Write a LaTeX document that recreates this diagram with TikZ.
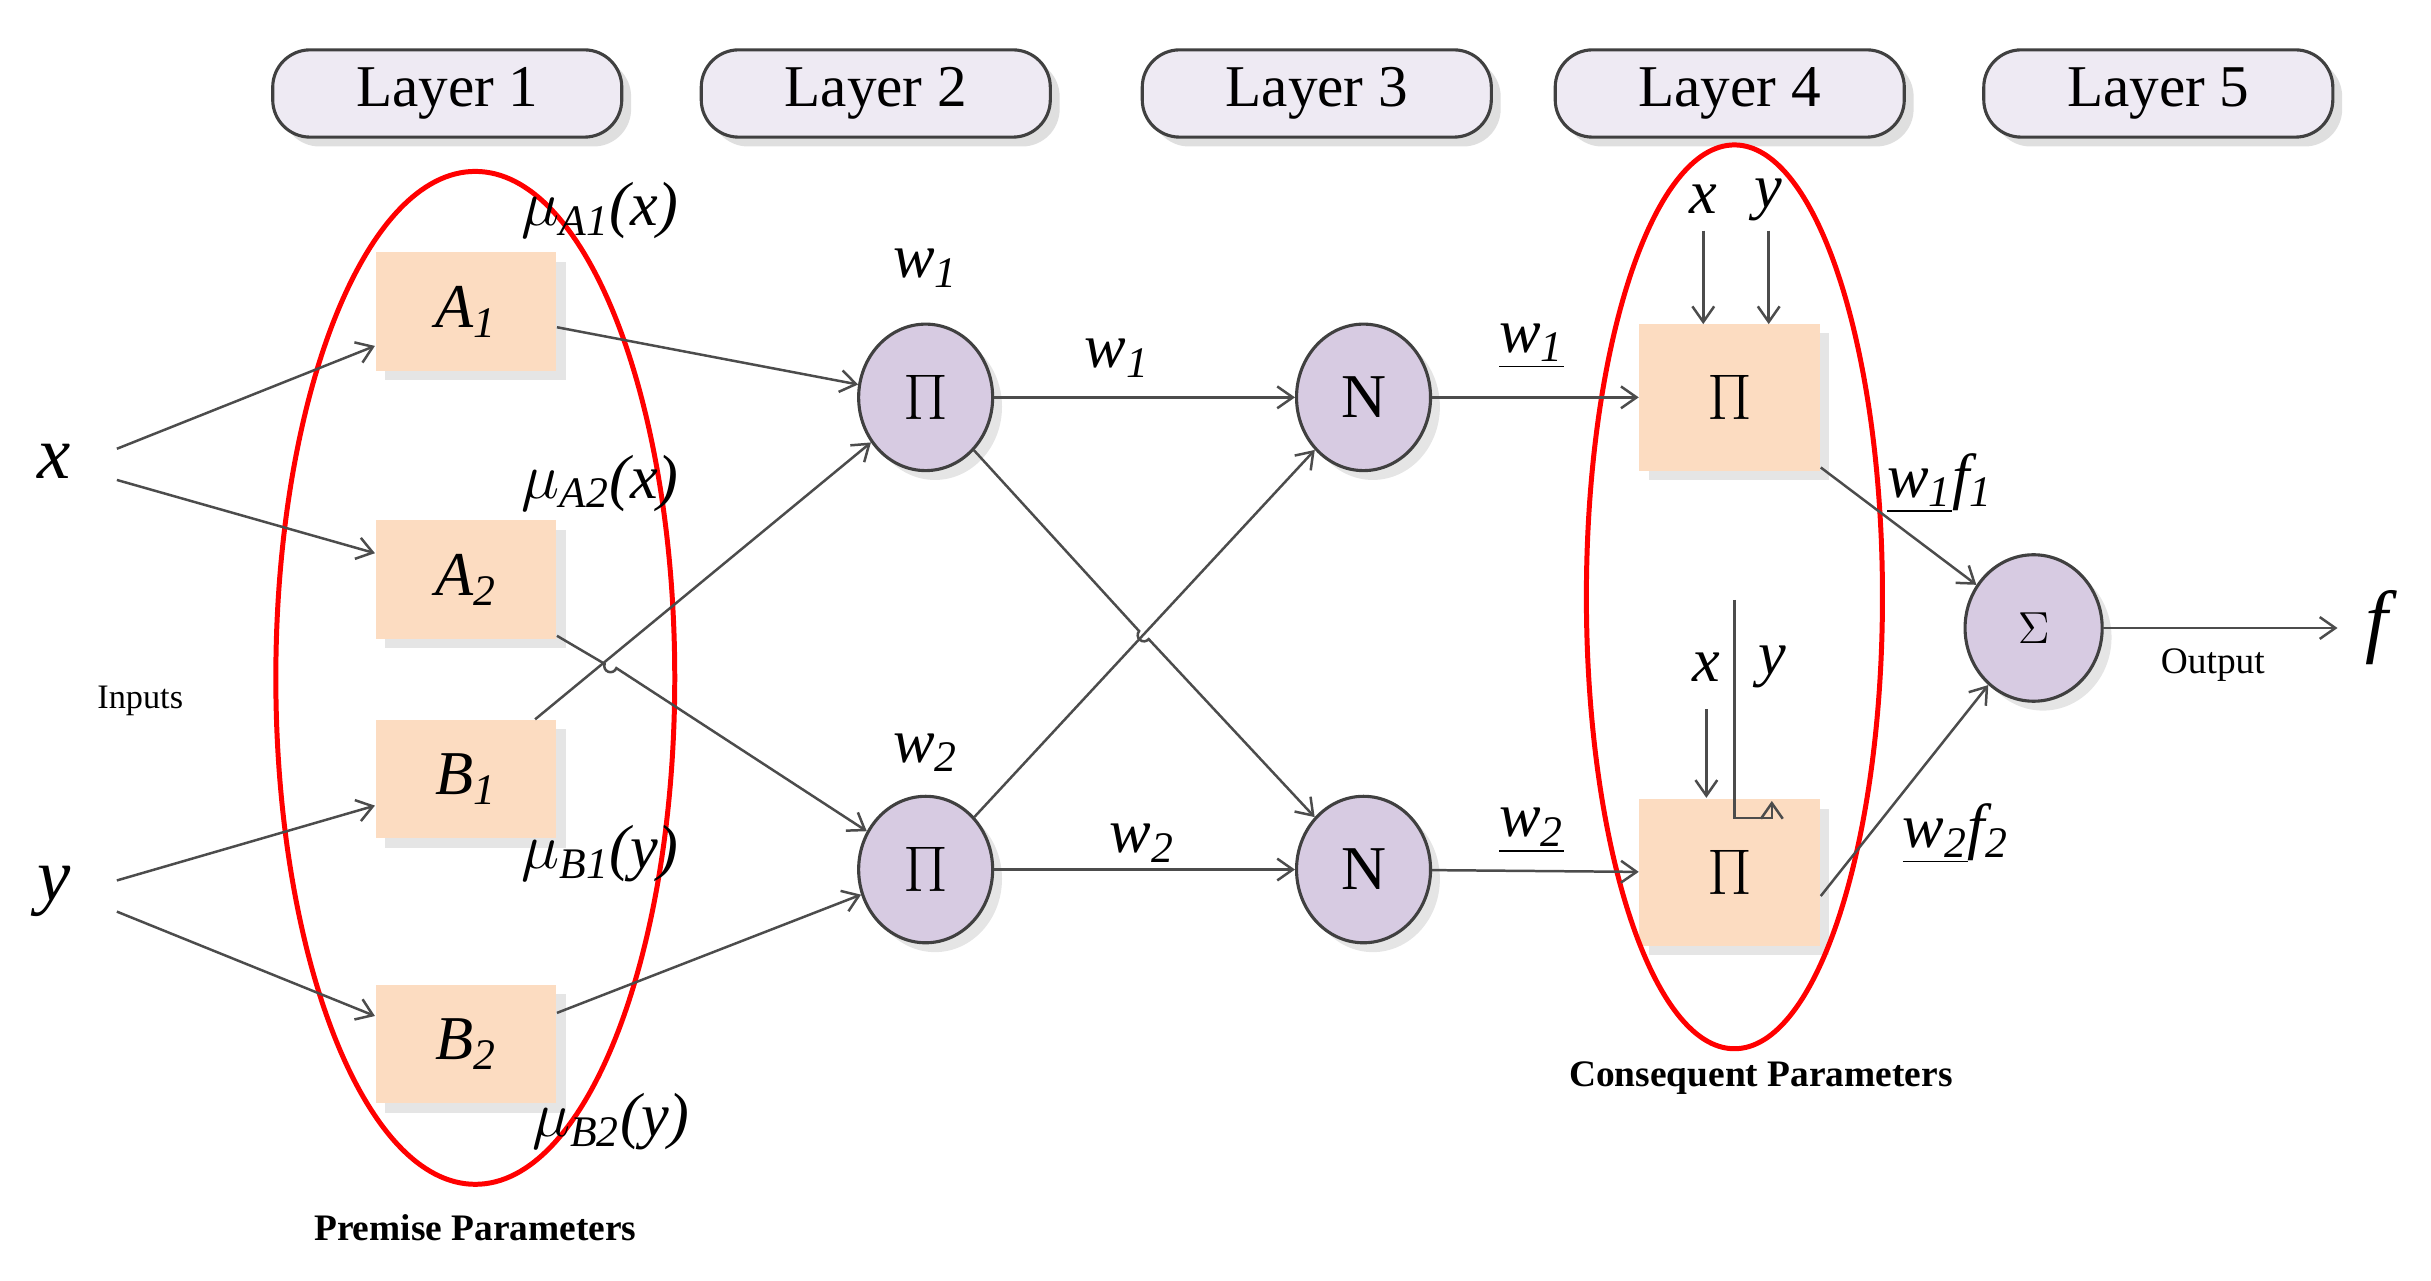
\documentclass[tikz,border=0pt]{standalone}
\usepackage{fontspec}
\setmainfont{Liberation Serif}
\usetikzlibrary{shadows,arrows.meta}
\definecolor{lay}{HTML}{EEEAF3}
\definecolor{peach}{HTML}{FCDCC1}
\definecolor{lav}{HTML}{D7CBE2}
\begin{document}
\begin{tikzpicture}[x=0.5pt,y=-0.5pt,
  layer/.style={draw=black!75,line width=1pt,fill=lay,rounded corners=12pt,minimum width=112pt,minimum height=28pt,font=\fontsize{19}{20}\selectfont,drop shadow={shadow xshift=3pt,shadow yshift=-3pt,fill=black!25}},
  sq/.style={fill=peach,minimum width=58pt,minimum height=38pt,font=\fontsize{20}{22}\selectfont\itshape,drop shadow={shadow xshift=3pt,shadow yshift=-3pt,fill=black!20}},
  sq4/.style={fill=peach,minimum width=58pt,minimum height=47pt,font=\fontsize{22}{24}\selectfont,drop shadow={shadow xshift=3pt,shadow yshift=-3pt,fill=black!20}},
  cir/.style={ellipse,draw=black!75,line width=1pt,fill=lav,minimum width=43pt,minimum height=47pt,inner sep=0pt,font=\fontsize{20}{22}\selectfont,drop shadow={shadow xshift=3pt,shadow yshift=-3pt,fill=black!20}},
  ar/.style={draw=black!70,line width=0.8pt,-{Straight Barb[length=5pt,width=7pt]}},
  lab/.style={font=\fontsize{20}{22}\selectfont\itshape,inner sep=0pt},
  red/.style={draw=red,line width=1.6pt}]
\useasboundingbox (0,0) rectangle (1560,822);
\usetikzlibrary{shapes.geometric}
% layers
\foreach \n/\x in {1/287,2/562,3/845,4/1110,5/1385}
  \node[layer] (L\n) at (\x,60) {Layer \n};
% nodes
\node[sq] (A1) at (299,200) {A\textsubscript{1}};
\node[sq] (A2) at (299,372) {A\textsubscript{2}};
\node[sq] (B1) at (299,500) {B\textsubscript{1}};
\node[sq] (B2) at (299,670) {B\textsubscript{2}};
\node[cir] (P1) at (594,255) {$\Pi$};
\node[cir] (P2) at (594,558) {$\Pi$};
\node[cir] (N1) at (875,255) {N};
\node[cir] (N2) at (875,558) {N};
\node[sq4] (Q1) at (1110,255) {$\Pi$};
\node[sq4] (Q2) at (1110,560) {$\Pi$};
\node[cir,minimum width=44pt,minimum height=47pt,font=\fontsize{14}{16}\selectfont] (S) at (1305,403) {$\Sigma$};
% ellipses
\draw[red] (305,435) ellipse (128 and 325);
\draw[red] (1113,383) ellipse (95 and 290);
% inputs
\node[lab,font=\fontsize{24}{26}\selectfont\itshape] (x) at (35,296) {x};
\node[lab,font=\fontsize{24}{26}\selectfont\itshape] (y) at (35,572) {y};
\coordinate (xa) at (75,288); \coordinate (xb) at (75,308);
\coordinate (ya) at (75,565); \coordinate (yb) at (75,585);
\draw[ar] (xa) -- (A1.west |- 0,222);
\draw[ar] (xb) -- (A2.west |- 0,355);
\draw[ar] (ya) -- (B1.west |- 0,517);
\draw[ar] (yb) -- (B2.west |- 0,652);
\node[font=\fontsize{11}{12}\selectfont] (inp) at (90,450) {Inputs};
% layer1->2
\draw[ar] (A1.east |- 0,210) -- (P1);
\draw[ar] (B1.north east) ++(-14,0) coordinate (b1s) (b1s) -- (P1);
\draw[ar] (A2.east |- 0,408) -- (388,426) arc[start angle=200,end angle=20,radius=4] -- (P2);
\draw[ar] (B2.east |- 0,650) -- (P2);
% layer 2->3
\draw[ar] (P1) -- (N1);
\draw[ar] (P2) -- (N2);
\draw[ar] (P1) -- (731,405) arc[start angle=220,end angle=40,radius=4] -- (N2);
\draw[ar] (P2) -- (N1);
% 3->4
\draw[ar] (N1) -- (Q1);
\draw[ar] (N2) -- (Q2);
% 4->5
\draw[ar] (Q1.east |- 0,300) -- (S);
\draw[ar] (Q2.east |- 0,575) -- (S);
\coordinate (fo) at (1500,403);
\draw[ar] (S) -- (fo);
\node[lab,font=\fontsize{26}{28}\selectfont\itshape] (f) at (1525,403) {f};
\node[font=\fontsize{12}{13}\selectfont] (out) at (1420,427) {Output};
% top inputs of Q1
\node[lab] (qx1) at (1093,128) {x};
\node[lab] (qy1) at (1135,128) {y};
\draw[ar] (1093,148) -- (1093,208);
\draw[ar] (1135,148) -- (1135,208);
\node[lab] (qx2) at (1095,428) {x};
\node[lab] (qy2) at (1137,428) {y};
\draw[ar] (1095,455) -- (1095,512);
\draw[ar] (1113,385) -- (1113,525) -- (1137,525) -- (1137,514);
% labels
\node[lab] (m1) at (385,135) {$\mu$\textsubscript{A1}(x)};
\node[lab] (m2) at (385,310) {$\mu$\textsubscript{A2}(x)};
\node[lab] (m3) at (385,548) {$\mu$\textsubscript{B1}(y)};
\node[lab] (m4) at (392,720) {$\mu$\textsubscript{B2}(y)};
\node[lab] (w1a) at (594,172) {w\textsubscript{1}};
\node[lab] (w2a) at (594,483) {w\textsubscript{2}};
\node[lab] (w1b) at (717,230) {w\textsubscript{1}};
\node[lab] (w2b) at (733,541) {w\textsubscript{2}};
\node[lab] (w1c) at (983,222) {\underline{w\textsubscript{1}}};
\node[lab] (w2c) at (983,533) {\underline{w\textsubscript{2}}};
\node[lab] (wf1) at (1245,310) {\underline{w\textsubscript{1}}f\textsubscript{1}};
\node[lab] (wf2) at (1255,535) {\underline{w\textsubscript{2}}f\textsubscript{2}};
\node[font=\fontsize{12}{13}\selectfont\bfseries] (pp) at (305,788) {Premise Parameters};
\node[font=\fontsize{12}{13}\selectfont\bfseries] (cp) at (1130,692) {Consequent Parameters};
\end{tikzpicture}
\end{document}
